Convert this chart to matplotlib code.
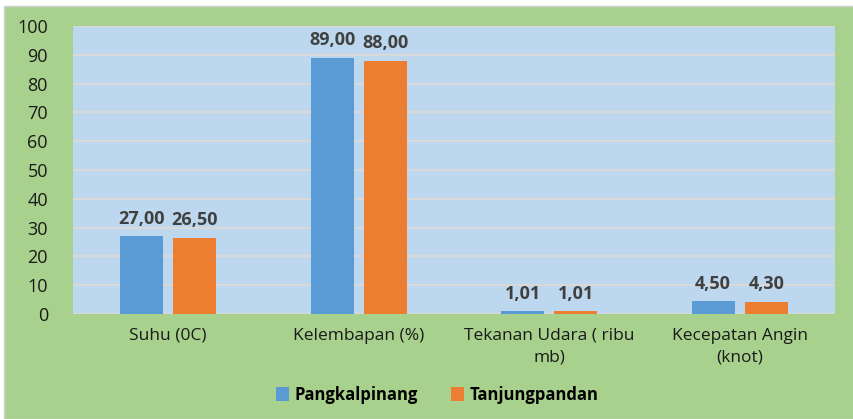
import numpy as np
import matplotlib.pyplot as plt
from matplotlib.patches import Rectangle

categories = ["Suhu (0C)", "Kelembapan (%)", "Tekanan Udara ( ribu\nmb)", "Kecepatan Angin\n(knot)"]
pangkalpinang = [27.00, 89.00, 1.01, 4.50]
tanjungpandan = [26.50, 88.00, 1.01, 4.30]
series_names = ["Pangkalpinang", "Tanjungpandan"]
yticks = [0, 10, 20, 30, 40, 50, 60, 70, 80, 90, 100]

plt.rcParams['font.family'] = ['Open Sans', 'DejaVu Sans']

fig = plt.figure(figsize=(8.54, 4.19), dpi=100, facecolor="white")
bg = Rectangle((4 / 854, 0), 1, (419 - 6) / 419, transform=fig.transFigure,
               facecolor="#a9d18e", edgecolor="#d0d0d0", lw=1, zorder=-10)
fig.patches.append(bg)

ax = fig.add_axes([73 / 854, (419 - 314) / 419, (835 - 73) / 854, (314 - 26) / 419])
ax.set_facecolor("#bdd7ee")

x = np.arange(len(categories))
w = 0.225
off = 0.14
b1 = ax.bar(x - off, pangkalpinang, w, color="#5b9bd5", label=series_names[0], zorder=3)
b2 = ax.bar(x + off, tanjungpandan, w, color="#ed7d31", label=series_names[1], zorder=3)

# angka desimal pakai koma
for bars in (b1, b2):
    labels = [("%.2f" % b.get_height()).replace(".", ",") for b in bars]
    ax.bar_label(bars, labels=labels, padding=6, fontsize=13, fontweight="bold", color="#404040")

ax.set_xlim(-0.5, len(categories) - 0.5)
ax.set_ylim(0, 100)
ax.set_yticks(yticks)
ax.tick_params(axis="y", length=0, labelsize=13, pad=18, colors="#1a1a1a")
ax.set_xticks(x)
ax.set_xticklabels(categories, fontsize=12.5, color="#1a1a1a", linespacing=1.5)
ax.tick_params(axis="x", length=0, pad=10)
ax.grid(axis="y", color="#d9d9d9", lw=1.5, zorder=1)
for s in ax.spines.values():
    s.set_visible(False)

leg = fig.legend(loc="center", bbox_to_anchor=(437 / 854, (419 - 395) / 419), ncol=2,
                 frameon=False, handlelength=0.8, handleheight=0.9, columnspacing=2.0,
                 handletextpad=0.3, prop={"weight": "bold", "size": 12})

fig.savefig("out.png", dpi=100, facecolor=fig.get_facecolor())
